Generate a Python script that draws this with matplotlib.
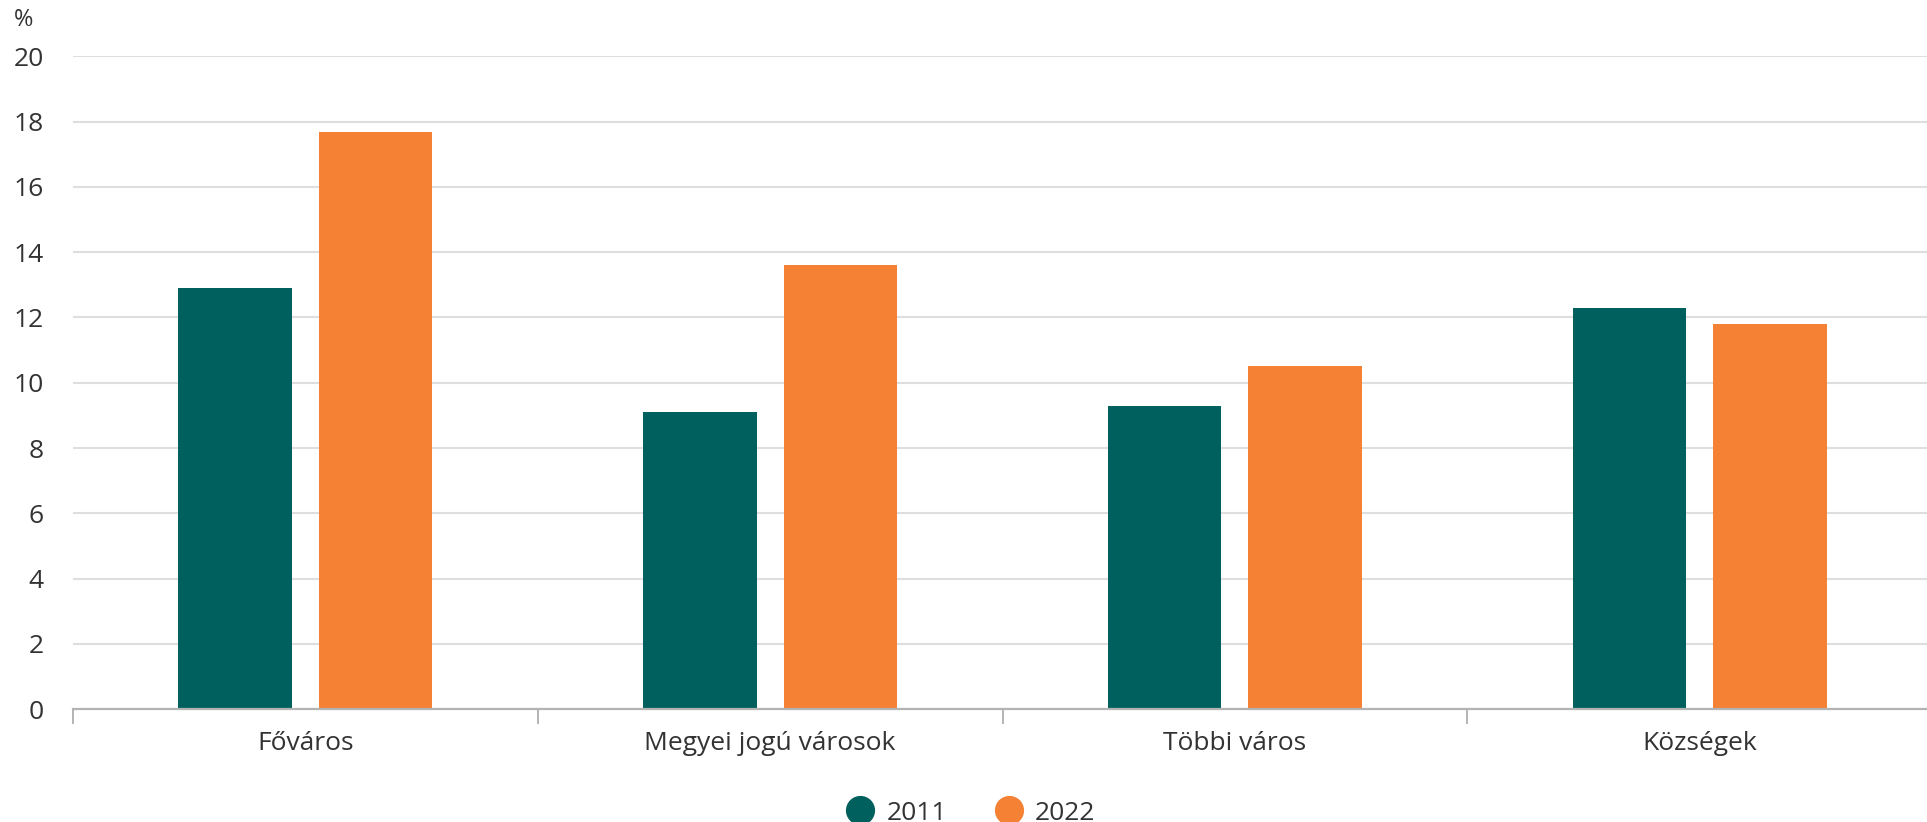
import numpy as np
import matplotlib.pyplot as plt
from matplotlib.lines import Line2D

plt.rcParams['font.family'] = ['Open Sans', 'DejaVu Sans']

categories = ['Főváros', 'Megyei jogú városok', 'Többi város', 'Községek']
years = ['2011', '2022']
values_2011 = [12.9, 9.1, 9.3, 12.3]
values_2022 = [17.7, 13.6, 10.5, 11.8]
yticks = [0, 2, 4, 6, 8, 10, 12, 14, 16, 18, 20]

teal = '#00605D'
orange = '#F48134'
text_color = '#333333'
axis_gray = '#b3b3b3'
grid_gray = '#dedede'

fig = plt.figure(figsize=(19.27, 8.22), dpi=100)
ax = fig.add_axes([73 / 1927, 1 - 709 / 822, (1932 - 73) / 1927, (709 - 56.5) / 822])

x = np.arange(len(categories))
width = 0.244
offset = 0.151
ax.bar(x - offset, values_2011, width, color=teal, zorder=3)
ax.bar(x + offset, values_2022, width, color=orange, zorder=3)

ax.set_xlim(-0.5, len(categories) - 0.5)
ax.set_ylim(0, 20)
ax.set_yticks(yticks)
ax.yaxis.grid(True, color=grid_gray, linewidth=1.5, zorder=0)
ax.set_axisbelow(True)

for s in ['top', 'right', 'left']:
    ax.spines[s].set_visible(False)
ax.spines['bottom'].set_color(axis_gray)
ax.spines['bottom'].set_linewidth(1.6)
ax.spines['bottom'].set_zorder(4)

ax.set_xticks(x)
ax.set_xticklabels(categories)
ax.set_xticks(np.arange(-0.5, len(categories)), minor=True)
ax.tick_params(axis='x', which='major', length=0, pad=16, labelsize=19, labelcolor=text_color)
ax.tick_params(axis='x', which='minor', length=11, width=1.4, color=axis_gray)
ax.tick_params(axis='y', length=0, pad=21, labelsize=19, labelcolor=text_color)

fig.text(14 / 1927, 1 - 8 / 822, '%', fontsize=17, color=text_color, va='top', ha='left')

handles = [Line2D([], [], marker='o', linestyle='none', markersize=20, color=c) for c in (teal, orange)]
fig.legend(handles, years, loc='center', bbox_to_anchor=(0.504, 1 - 813 / 822), ncol=2,
           frameon=False, fontsize=19, handlelength=1.0, handletextpad=0.5,
           columnspacing=1.85, labelcolor=text_color, borderaxespad=0, borderpad=0)

fig.savefig('out.png', dpi=100)
